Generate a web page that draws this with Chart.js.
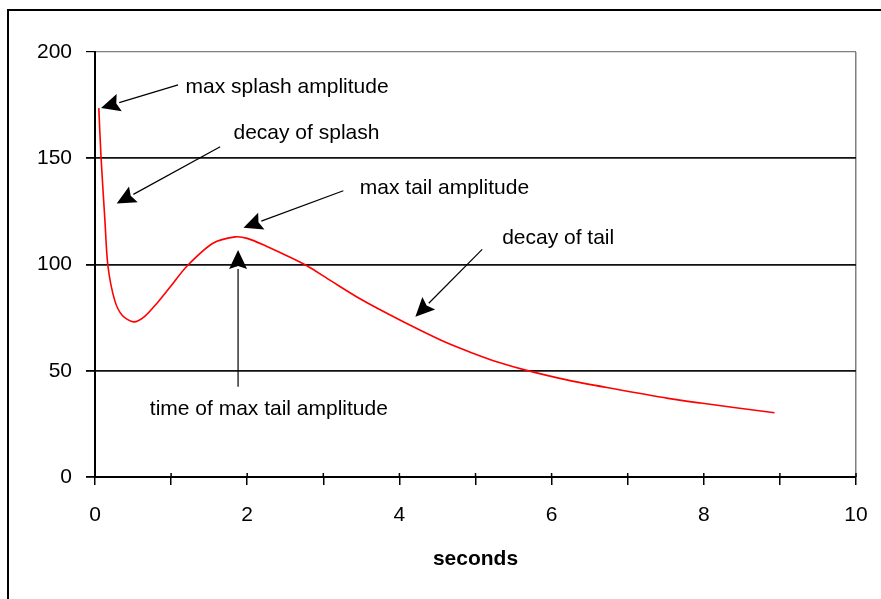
<!DOCTYPE html>
<html>
<head>
<meta charset="utf-8">
<script src="https://cdn.jsdelivr.net/npm/chart.js@4.4.1/dist/chart.umd.min.js"></script>
<style>
    body { margin: 0; background: #fff; }
    #wrap { position: relative; width: 881px; height: 599px; overflow: hidden; }
    #frame { position: absolute; left: 7px; top: 9px; width: 900px; height: 700px;
             border-left: 2px solid #000; border-top: 2px solid #000; }
    canvas { position: absolute; left: 0; top: 0; }
</style>
</head>
<body>
<div id="wrap">
    <div id="frame"></div>
    <canvas id="splashChart" width="881" height="599"></canvas>
</div>
<script>
// curve
const seconds   = [0.05, 0.08, 0.13, 0.17, 0.26, 0.36, 0.51, 0.65, 0.82, 0.99, 1.21, 1.55, 1.84, 2.0, 2.26, 2.5, 2.79, 3.07, 3.5, 4.0, 4.6, 5.0, 5.3, 5.66, 6.2, 6.82, 7.53, 7.96, 8.93];
const amplitude = [173.6, 150, 121, 99.3, 83, 76, 73, 75.5, 82, 89.5, 99.3, 110, 113, 112.3, 108.5, 104.5, 99.3, 93, 83.5, 74, 63.5, 57.8, 54, 50.3, 45.7, 41.5, 37, 34.8, 30.2];

const yTicks = [0, 50, 100, 150, 200];
const xTicks = [0, 2, 4, 6, 8, 10];

// annotations, in data units (text anchor = left/middle)
const noteText  = ['max splash amplitude', 'decay of splash', 'max tail amplitude', 'decay of tail', 'time of max tail amplitude'];
const noteX     = [1.19, 1.82, 3.48, 5.35, 0.72];
const noteY     = [183.4, 161.9, 136, 112.5, 31.9];
const arrowFromX = [1.092, 1.645, 3.263, 5.088, 1.88];
const arrowFromY = [184.5, 155.4, 134.7, 107.1, 42.5];
const arrowToX   = [0.079, 0.285, 1.951, 4.21, 1.88];
const arrowToY   = [173.6, 128.7, 117.3, 75.4, 106.8];

const FONT = "'Liberation Sans', Arial, sans-serif";

const notesPlugin = {
    id: 'notes',
    afterDraw(chart) {
        const ctx = chart.ctx;
        const xs = chart.scales.x, ys = chart.scales.y;
        ctx.save();

        // inner half of the cross tick marks on the x axis
        ctx.strokeStyle = '#000';
        ctx.lineWidth = 1.5;
        xs.ticks.forEach(t => {
            const px = xs.getPixelForValue(t.value);
            ctx.beginPath();
            ctx.moveTo(px, ys.bottom);
            ctx.lineTo(px, ys.bottom - 4);
            ctx.stroke();
        });

        for (let i = 0; i < noteText.length; i++) {
            const x1 = xs.getPixelForValue(arrowFromX[i]), y1 = ys.getPixelForValue(arrowFromY[i]);
            const x2 = xs.getPixelForValue(arrowToX[i]), y2 = ys.getPixelForValue(arrowToY[i]);
            const a = Math.atan2(y2 - y1, x2 - x1);
            const len = 19, half = 9;
            const bx = x2 - len * Math.cos(a), by = y2 - len * Math.sin(a);

            ctx.strokeStyle = '#000';
            ctx.lineWidth = 1.2;
            ctx.beginPath();
            ctx.moveTo(x1, y1);
            ctx.lineTo(bx, by);
            ctx.stroke();

            ctx.fillStyle = '#000';
            ctx.beginPath();
            ctx.moveTo(x2, y2);
            ctx.lineTo(bx + half * Math.sin(a), by - half * Math.cos(a));
            ctx.lineTo(x2 - (len - 3) * Math.cos(a), y2 - (len - 3) * Math.sin(a));
            ctx.lineTo(bx - half * Math.sin(a), by + half * Math.cos(a));
            ctx.closePath();
            ctx.fill();

            ctx.font = '21px ' + FONT;
            ctx.textAlign = 'left';
            ctx.textBaseline = 'middle';
            ctx.fillText(noteText[i], xs.getPixelForValue(noteX[i]), ys.getPixelForValue(noteY[i]));
        }
        ctx.restore();
    }
};

const ctx = document.getElementById('splashChart').getContext('2d');

new Chart(ctx, {
    type: 'scatter',
    data: {
        datasets: [{
            data: seconds.map((s, i) => ({ x: s, y: amplitude[i] })),
            showLine: true,
            borderColor: '#ff0000',
            borderWidth: 1.6,
            pointRadius: 0,
            tension: 0.3,
            fill: false
        }]
    },
    options: {
        responsive: false,
        devicePixelRatio: 1,
        animation: false,
        layout: { padding: { left: 0, top: 52, right: 25, bottom: 0 } },
        plugins: {
            legend: { display: false },
            tooltip: { enabled: false }
        },
        scales: {
            x: {
                type: 'linear',
                min: 0,
                max: 10,
                afterFit: s => { s.height = 122; s.paddingRight = 0; s.paddingLeft = 0; },
                border: { color: '#000', width: 2 },
                grid: {
                    drawOnChartArea: true,
                    color: c => c.tick && c.tick.value === 10 ? '#808080' : 'rgba(0,0,0,0)',
                    lineWidth: 1.5,
                    tickColor: '#000',
                    tickLength: 8
                },
                ticks: {
                    stepSize: 1,
                    autoSkip: false,
                    maxRotation: 0,
                    padding: 18,
                    color: '#000',
                    font: { family: FONT, size: 21 },
                    callback: v => xTicks.includes(v) ? v : ''
                },
                title: {
                    display: true,
                    text: 'seconds',
                    color: '#000',
                    font: { family: FONT, size: 21, weight: 'bold' },
                    padding: { top: 0, bottom: 27 }
                }
            },
            y: {
                min: 0,
                max: 200,
                afterFit: s => { s.width = 95; },
                afterBuildTicks: s => { s.ticks = yTicks.map(v => ({ value: v })); },
                border: { color: '#000', width: 2 },
                grid: {
                    color: c => {
                        if (!c.tick) return '#000';
                        if (c.tick.value === 200) return '#808080';
                        if (c.tick.value === 0) return 'rgba(0,0,0,0)';
                        return '#111';
                    },
                    lineWidth: c => c.tick && c.tick.value === 200 ? 1.2 : 1.8,
                    tickColor: '#000',
                    tickLength: 9
                },
                ticks: {
                    padding: 14,
                    color: '#000',
                    font: { family: FONT, size: 21 }
                }
            }
        }
    },
    plugins: [notesPlugin]
});
</script>
</body>
</html>
